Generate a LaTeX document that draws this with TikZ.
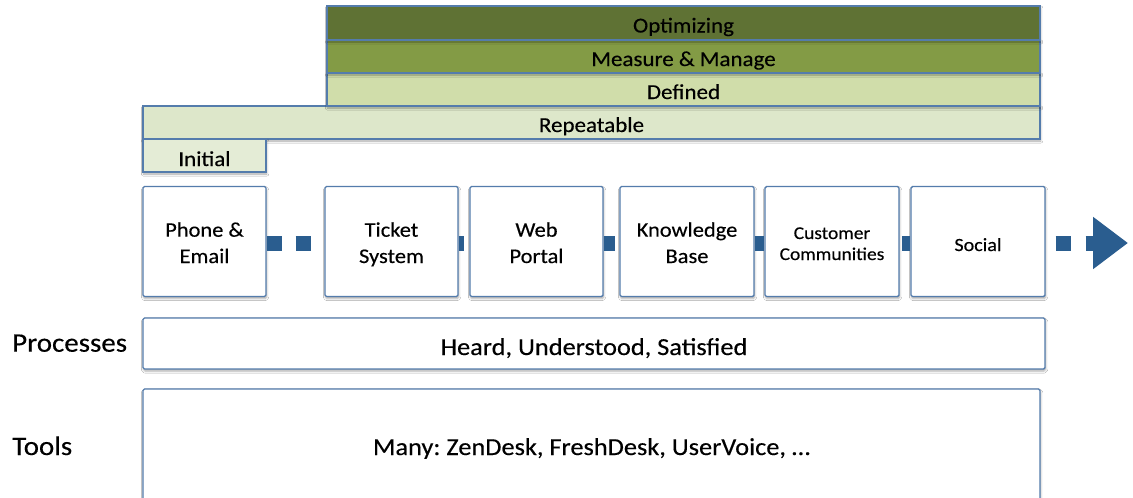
\documentclass[tikz,border=0pt]{standalone}
\usepackage{fontspec}
\setmainfont[FakeStretch=1.08, FakeBold=0.3]{Carlito}
\frenchspacing
\usetikzlibrary{arrows.meta,shadows.blur}

\definecolor{edgeblue}{RGB}{84,124,172}
\definecolor{dotblue}{RGB}{42,93,143}
\definecolor{optgreen}{RGB}{95,114,52}
\definecolor{measgreen}{RGB}{131,155,69}
\definecolor{defgreen}{RGB}{208,221,170}
\definecolor{repgreen}{RGB}{221,231,202}
\definecolor{initgreen}{RGB}{228,236,214}

\tikzset{
  softshadow/.style={blur shadow={shadow xshift=0.6pt, shadow yshift=-2pt,
      shadow blur radius=2.2pt, shadow opacity=35}},
  band/.style={draw=edgeblue, line width=1.3pt, inner sep=0pt, softshadow,
      text height=19pt, text depth=0pt,
      font=\fontsize{21.3}{25}\selectfont},
  stagebox/.style={draw=edgeblue, fill=white, line width=1.4pt, rounded corners=1.5pt,
      inner sep=0pt, minimum height=110pt, softshadow, align=center,
      text height=43pt, text depth=0pt,
      font=\fontsize{20.8}{26.3}\selectfont},
  rowbox/.style={draw=edgeblue, fill=white, line width=1.4pt, rounded corners=1.5pt,
      inner sep=0pt, softshadow, text depth=0pt,
      font=\fontsize{24.4}{29}\selectfont},
  sidelabel/.style={anchor=base west, inner sep=0pt, font=\fontsize{26.8}{32}\selectfont},
  sq/.style={draw=dotblue, line width=15pt, line cap=butt},
}

\begin{document}
\begin{tikzpicture}[x=1pt, y=-1pt]
  \clip (0,0) rectangle (1133,498);
  \fill[white] (0,0) rectangle (1133,498);

  % maturity levels
  \node[band, fill=repgreen, minimum width=897pt, minimum height=33pt]
    (rep) at (591.5,122.5) {Repeatable};
  \node[band, fill=initgreen, minimum width=123pt, minimum height=33pt, text height=21pt]
    (init) at (204.5,155.5) {Initial};
  \node[band, fill=defgreen, minimum width=713pt, minimum height=33pt]
    (def) at (683.5,89.5) {Defined};
  \node[band, fill=measgreen, minimum width=713pt, minimum height=33pt]
    (meas) at (683.5,56.5) {Measure \& Manage};
  \node[band, fill=optgreen, minimum width=713pt, minimum height=34pt]
    (opt) at (683.5,23) {Optimizing};

  % row of the dotted channel line
  \coordinate (tip) at (1128,243);
  \path (204.5,243) coordinate (rowy);

  % support channels
  \node[stagebox, minimum width=123pt] (phone)  at (204.5,241.5) {Phone \&\\Email};
  \node[stagebox, minimum width=133pt] (ticket) at (391.5,241.5) {Ticket\\System};
  \node[stagebox, minimum width=133pt] (web)    at (536.5,241.5) {Web\\Portal};
  \node[stagebox, minimum width=134pt] (kb)     at (687,241.5)   {Knowledge\\Base};
  \node[stagebox, minimum width=134pt, text height=37pt, font=\fontsize{18}{21}\selectfont]
    (cc) at (832,241.5) {Customer\\Communities};
  \node[stagebox, minimum width=134pt, text height=19pt, font=\fontsize{18.6}{22}\selectfont]
    (social) at (978,241.5) {Social};

  % square-dot connectors
  \draw[sq, dash pattern=on 15pt off 14pt] (phone.east |- rowy) -- (ticket.west |- rowy);
  \draw[sq, dash pattern=on 5pt off 30pt]  (ticket.east |- rowy) -- (web.west |- rowy);
  \draw[sq, dash pattern=on 11pt off 30pt] (web.east |- rowy) -- (kb.west |- rowy);
  \draw[sq] (kb.east |- rowy) -- (cc.west |- rowy);
  \draw[sq, dash pattern=on 8pt off 30pt]  (social.west |- rowy) -- (cc.east |- rowy);
  \draw[sq, dash pattern=on 0pt off 10pt on 15pt off 15pt on 100pt,
        -{Triangle[length=35pt, width=50pt]}]
    (social.east |- rowy) -- (tip);

  % processes and tools
  \node[rowbox, minimum width=902pt, minimum height=51pt, text height=23pt]
    (proc) at (594,343.5) {Heard, Understood, Satisfied};
  \node[rowbox, minimum width=897pt, minimum height=116pt, text height=16pt]
    (tools) at (591.5,447) {Many: ZenDesk, FreshDesk, UserVoice, …};

  \node[sidelabel] (proclabel)  at (12,351.7) {Processes};
  \node[sidelabel] (toolslabel) at (12,455) {Tools};
\end{tikzpicture}
\end{document}
